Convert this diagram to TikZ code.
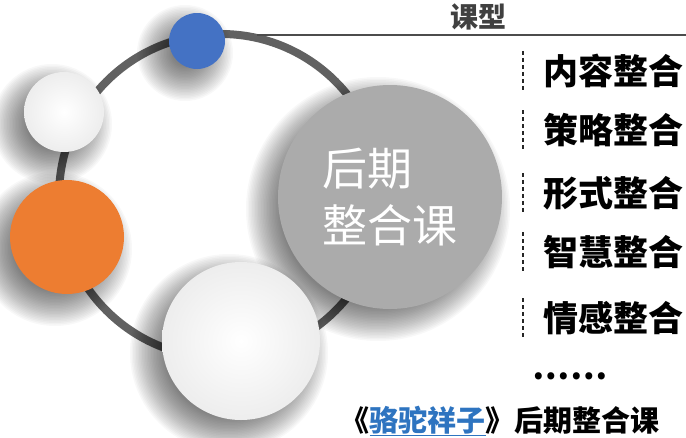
\documentclass[tikz,border=0pt]{standalone}
\usepackage{fontspec}
\setmainfont{Noto Sans CJK SC}
\usetikzlibrary{positioning}

\definecolor{ringgray}{HTML}{616161}
\definecolor{dotblue}{HTML}{4472C4}
\definecolor{dotorange}{HTML}{ED7D31}
\definecolor{hubgray}{HTML}{ABABAB}
\definecolor{linkblue}{HTML}{2E74C0}

\tikzset{
  ball/.style={circle, inner sep=0pt, minimum size=#1},
  paleball/.style={ball=#1, inner color=white, outer color=black!7},
  item/.style={font=\bfseries\fontsize{35}{40}\selectfont, inner sep=3pt, anchor=west},
  sep/.style={dashed, dash pattern=on 4pt off 3pt, line width=1.3pt, black!85}
}

% soft shadow under a ball: coordinate, radius
\newcommand{\castshadow}[2]{%
  \foreach \k in {0,...,23}
    \fill[black, opacity=0.026] ([shift={(-12,12)}]#1) circle ({#2+20-1.5*\k});
}

\begin{document}
\begin{tikzpicture}[x=1pt, y=-1pt]
\useasboundingbox (0,0) rectangle (686,437);

% Centres of the balls
\coordinate (hub) at (221,196);
\coordinate (blue) at (197,41);
\coordinate (pale) at (64,112);
\coordinate (orange) at (67,237);
\coordinate (bigpale) at (241,341);
\coordinate (core) at (390,197);

% The ring behind everything
\draw[ringgray, line width=8pt] (hub) circle (162);

% Shadows
\castshadow{blue}{28}
\castshadow{pale}{40}
\castshadow{orange}{57}
\castshadow{bigpale}{79}
\castshadow{core}{112}

% Balls
\node[ball=56pt, fill=dotblue] (blueball) at (blue) {};
\node[paleball=80pt] (paleball) at (pale) {};
\node[ball=114pt, fill=dotorange] (orangeball) at (orange) {};
\node[paleball=158pt] (bigball) at (bigpale) {};
\node[ball=224pt, fill=hubgray, text=white, align=left,
      font=\fontsize{45}{57}\selectfont] (coreball) at (core) {后期\\整合课};

% Heading and its rule
\node[font=\bfseries\fontsize{28}{32}\selectfont, text=black!75, inner sep=0pt] (head) at (478,17) {课型};
\coordinate (ruleL) at (257,35);
\coordinate (ruleR) at (686,35);
\draw[black!70, line width=1.2pt] (ruleL) -- (ruleR);

% Kinds of integration
\foreach \t/\y [count=\i] in {内容整合/71, 策略整合/130, 形式整合/193, 智慧整合/252, 情感整合/318}
{
    \node[item] (item\i) at (540,\y) {\t};
    \draw[sep] ([xshift=-17pt]item\i.north west) -- ([xshift=-17pt]item\i.south west);
}
\node[font=\bfseries\fontsize{33}{36}\selectfont, inner sep=0pt] (more) at (570,376) {……};

% Caption
\node[font=\bfseries\fontsize{29}{32}\selectfont, inner sep=0pt] (caption) at (500,421)
  {《\textcolor{linkblue}{\underline{骆驼祥子}}》后期整合课};

\end{tikzpicture}
\end{document}
